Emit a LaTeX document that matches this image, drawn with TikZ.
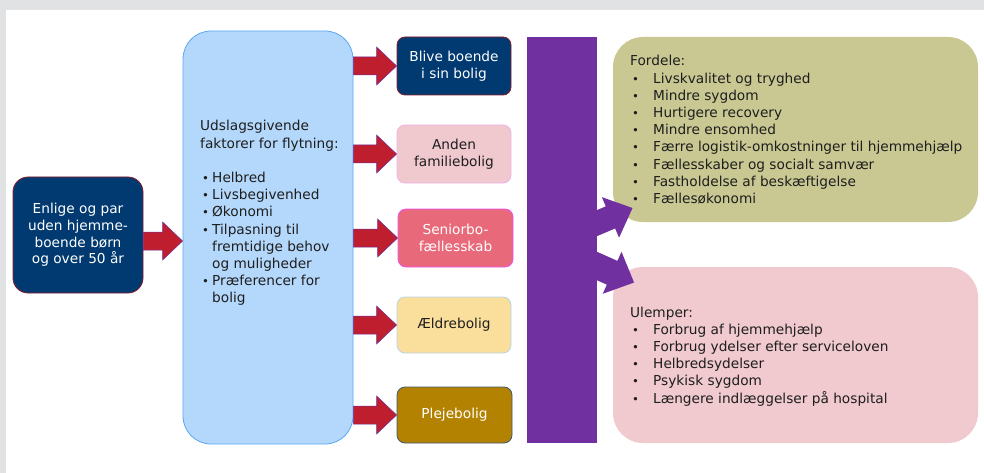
\documentclass[tikz,border=0pt]{standalone}
\usepackage{fontspec}
\setmainfont{DejaVu Sans}
\usetikzlibrary{calc}
\definecolor{bggray}{HTML}{E1E2E4}
\definecolor{navy}{HTML}{003A70}
\definecolor{darkred}{HTML}{8C1C2C}
\definecolor{crimson}{HTML}{BE1E2D}
\definecolor{violet}{HTML}{7030A0}
\definecolor{lightblue}{HTML}{B4D8FB}
\definecolor{blueedge}{HTML}{5AA8F0}
\definecolor{pinkfill}{HTML}{F0C9CF}
\definecolor{pinkedge}{HTML}{F0B0E8}
\definecolor{rosefill}{HTML}{E86A7A}
\definecolor{magentaedge}{HTML}{F050F0}
\definecolor{yellowfill}{HTML}{FADE9B}
\definecolor{yellowedge}{HTML}{B8D4E8}
\definecolor{goldfill}{HTML}{B38200}
\definecolor{goldedge}{HTML}{3E5878}
\definecolor{khaki}{HTML}{C9C893}
\definecolor{ulpink}{HTML}{F0CACE}
\definecolor{ink}{HTML}{1E1E1E}
\newcommand\mybul[1]{\makebox[#1][l]{\hspace{2pt}\scalebox{0.85}{•}}}
\newcommand\blockarrow[2]{%
  \path[blockarr] let \p1=(#1), \p2=(#2) in
   (\x1,{\y2+9pt}) -- ({\x2-20pt},{\y2+9pt}) -- ({\x2-20pt},{\y2+19pt}) -- (\x2,\y2)
   -- ({\x2-20pt},{\y2-19pt}) -- ({\x2-20pt},{\y2-9pt}) -- (\x1,{\y2-9pt}) -- cycle;}
\begin{document}
\begin{tikzpicture}[x=1pt,y=-1pt,
  txt/.style={font=\fontsize{13.7}{17.2}\selectfont},
  box/.style={rectangle, rounded corners=8pt, line width=0.8pt, align=center,
    inner sep=0pt, font=\fontsize{13.7}{17.5}\selectfont},
  smallbox/.style={box, minimum width=114pt, minimum height=58pt},
  bigbox/.style={rectangle, rounded corners=30pt, inner sep=0pt},
  blockarr/.style={fill=crimson, draw=violet, line width=0.5pt},
  purplearr/.style={fill=violet}]
\useasboundingbox (0,0) rectangle (984,473);
\fill[bggray] (0,0) rectangle (984,473);
\fill[white] (6,10) rectangle (984,473);

% nodes
\node[box, fill=navy, draw=darkred, text=white, rounded corners=15pt,
  minimum width=130pt, minimum height=116pt, font=\fontsize{13.7}{16.7}\selectfont]
  (left) at (78,235) {Enlige og par\\uden hjemme-\\boende børn\\og over 50 år};
\node[rectangle, rounded corners=28pt, fill=lightblue, draw=blueedge, line width=0.8pt,
  minimum width=170pt, minimum height=413pt, inner sep=0pt] (mid) at (268,237.5) {};
\node[txt, anchor=base west, inner sep=0pt, text=ink] (midtext) at (200,131) {\parbox[t]{150pt}{\raggedright
  Udslagsgivende\\
  faktorer for flytning:\\[17.2pt]
  \mybul{12pt}Helbred\\
  \mybul{12pt}Livsbegivenhed\\
  \mybul{12pt}Økonomi\\
  \mybul{12pt}Tilpasning til\\
  \hspace*{12pt}fremtidige behov\\
  \hspace*{12pt}og muligheder\\
  \mybul{12pt}Præferencer for\\
  \hspace*{12pt}bolig}};

\node[smallbox, fill=navy, draw=darkred, text=white] (b1) at (454,66) {Blive boende\\i sin bolig};
\node[smallbox, fill=pinkfill, draw=pinkedge, text=ink] (b2) at (454,154) {Anden\\familiebolig};
\node[smallbox, fill=rosefill, draw=magentaedge, text=white, minimum width=115pt] (b3) at (455.5,238) {Seniorbo-\\fællesskab};
\node[smallbox, fill=yellowfill, draw=yellowedge, text=ink, minimum height=56pt] (b4) at (454,325) {Ældrebolig};
\node[smallbox, fill=goldfill, draw=goldedge, text=white, minimum height=56pt, minimum width=115pt] (b5) at (454.5,415) {Plejebolig};

\node[rectangle, fill=violet, minimum width=70pt, minimum height=406pt, inner sep=0pt] (bar) at (562,240) {};

\node[bigbox, fill=khaki, minimum width=365pt, minimum height=185pt] (fordele) at (795.5,129.5) {};
\node[txt, anchor=base west, inner sep=0pt, text=ink] (fordeletext) at (630,66) {\parbox[t]{340pt}{\raggedright
  Fordele:\\
  \mybul{23pt}Livskvalitet og tryghed\\
  \mybul{23pt}Mindre sygdom\\
  \mybul{23pt}Hurtigere recovery\\
  \mybul{23pt}Mindre ensomhed\\
  \mybul{23pt}Færre logistik-omkostninger til hjemmehjælp\\
  \mybul{23pt}Fællesskaber og socialt samvær\\
  \mybul{23pt}Fastholdelse af beskæftigelse\\
  \mybul{23pt}Fællesøkonomi}};

\node[bigbox, fill=ulpink, minimum width=365pt, minimum height=176pt] (ulemper) at (795.5,355) {};
\node[txt, anchor=base west, inner sep=0pt, text=ink] (ulempertext) at (630,317) {\parbox[t]{340pt}{\raggedright
  Ulemper:\\
  \mybul{23pt}Forbrug af hjemmehjælp\\
  \mybul{23pt}Forbrug ydelser efter serviceloven\\
  \mybul{23pt}Helbredsydelser\\
  \mybul{23pt}Psykisk sygdom\\
  \mybul{23pt}Længere indlæggelser på hospital}};

% connectors
\blockarrow{left.east}{$(mid.west|-left.east)+(0,6)$}
\blockarrow{mid.east}{b1.west}
\blockarrow{mid.east}{b2.west}
\blockarrow{mid.east}{b3.west}
\blockarrow{mid.east}{b4.west}
\blockarrow{mid.east}{b5.west}

\begin{scope}[shift={($(bar.east)+(-7,-14)$)}, rotate=23]
  \fill[purplearr] (0,-12) -- (22,-12) -- (22,-22) -- (46,0) -- (22,22) -- (22,12) -- (0,12) -- cycle;
\end{scope}
\begin{scope}[shift={($(bar.east)+(-7,23)$)}, rotate=-24]
  \fill[purplearr] (0,-13) -- (24,-13) -- (24,-23) -- (48,0) -- (24,23) -- (24,13) -- (0,13) -- cycle;
\end{scope}
\end{tikzpicture}
\end{document}
